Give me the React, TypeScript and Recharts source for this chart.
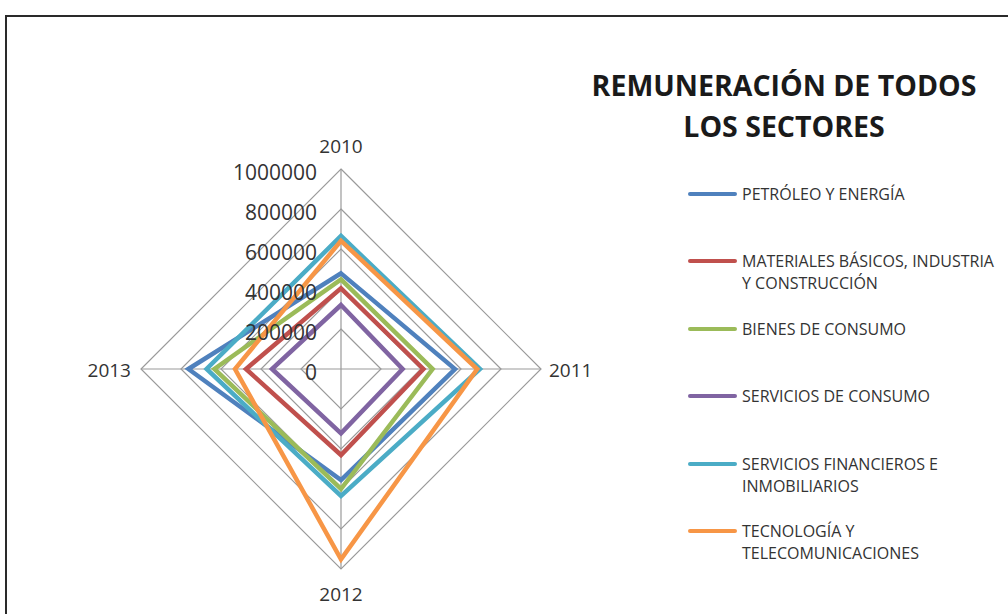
import React from 'react';
import { RadarChart, Radar, PolarGrid, PolarAngleAxis, PolarRadiusAxis, Legend } from 'recharts';

const categories = ['2010', '2011', '2012', '2013'];

const petroleo = [478000, 570000, 555000, 763000];
const materiales = [403000, 412000, 430000, 475000];
const bienes = [448000, 458000, 600000, 633000];
const serviciosConsumo = [320000, 308000, 322000, 345000];
const financieros = [665000, 695000, 635000, 672000];
const tecnologia = [641000, 681000, 952000, 530000];

const radiusTicks = [0, 200000, 400000, 600000, 800000, 1000000];

const seriesNames = [
  'PETRÓLEO Y ENERGÍA',
  'MATERIALES BÁSICOS, INDUSTRIA\nY CONSTRUCCIÓN',
  'BIENES DE CONSUMO',
  'SERVICIOS DE CONSUMO',
  'SERVICIOS FINANCIEROS E\nINMOBILIARIOS',
  'TECNOLOGÍA Y\nTELECOMUNICACIONES',
];

const seriesValues = [petroleo, materiales, bienes, serviciosConsumo, financieros, tecnologia];
const seriesColors = ['#4F81BD', '#C0504D', '#9BBB59', '#8064A2', '#4BACC6', '#F79646'];

const data = categories.map((year, i) => {
  const row: Record<string, string | number> = { year };
  seriesValues.forEach((vals, s) => {
    row['s' + s] = vals[i];
  });
  return row;
});

const CX = 341;
const CY = 369;
const R = 200;
const FONT = '"Open Sans", "Noto Sans", sans-serif';

function RadiusTick(props: any) {
  const { x, y, payload } = props;
  return (
    <text x={x - 24} y={y + 3} textAnchor="end" dominantBaseline="central" fontSize={21} fontFamily={FONT} fill="#333">
      {payload.value}
    </text>
  );
}

function AngleTick(props: any) {
  const { x, y, payload } = props;
  const dx = x - CX;
  const dy = y - CY;
  const len = Math.sqrt(dx * dx + dy * dy) || 1;
  const ux = dx / len;
  const uy = dy / len;
  let anchor: 'start' | 'middle' | 'end' = 'middle';
  let off = 24;
  if (ux > 0.5) {
    anchor = 'start';
    off = 8;
  } else if (ux < -0.5) {
    anchor = 'end';
    off = 10;
  }
  return (
    <text
      x={CX + ux * (R + off)}
      y={CY + uy * (R + off) + 1}
      textAnchor={anchor}
      dominantBaseline="central"
      fontSize={19}
      fontFamily={FONT}
      fill="#333"
    >
      {payload.value}
    </text>
  );
}

function LegendBox(props: any) {
  const { payload } = props;
  const items = [...(payload || [])].sort(
    (a: any, b: any) => seriesNames.indexOf(a.value) - seriesNames.indexOf(b.value)
  );
  return (
    <div style={{ position: 'relative', width: 320, height: 420 }}>
      {items.map((entry: any, i: number) => (
        <div key={i} style={{ position: 'absolute', left: 0, top: i * 67.4, display: 'flex', alignItems: 'flex-start' }}>
          <div style={{ width: 49, height: 4, background: entry.color, marginTop: 9, borderRadius: 2 }} />
          <div
            style={{
              marginLeft: 5,
              whiteSpace: 'pre',
              fontFamily: FONT,
              fontSize: 16,
              lineHeight: '22px',
              color: '#333',
            }}
          >
            {entry.value}
          </div>
        </div>
      ))}
    </div>
  );
}

export default function App() {
  return (
    <div style={{ position: 'absolute', left: 0, top: 0, width: 1008, height: 614, overflow: 'hidden', background: '#fff' }}>
      <div
        style={{
          position: 'absolute',
          left: 5,
          top: 15,
          width: 1020,
          height: 620,
          border: '2px solid #2a2a2a',
          boxSizing: 'border-box',
        }}
      />
      <div
        style={{
          position: 'absolute',
          left: 564,
          top: 65,
          width: 440,
          textAlign: 'center',
          fontFamily: FONT,
          fontWeight: 700,
          fontSize: 28.5,
          lineHeight: '41px',
          color: '#1a1a1a',
        }}
      >
        REMUNERACIÓN DE TODOS
        <br />
        LOS SECTORES
      </div>
      <div style={{ position: 'absolute', left: 0, top: 0 }}>
        <RadarChart width={1008} height={614} data={data} cx={CX} cy={CY} outerRadius={R} margin={{ top: 0, right: 0, bottom: 0, left: 0 }}>
          <PolarGrid gridType="polygon" stroke="#9a9a9a" strokeWidth={1.2} />
          <PolarAngleAxis dataKey="year" tick={<AngleTick />} tickLine={false} axisLine={false} />
          <PolarRadiusAxis
            angle={90}
            type="number"
            domain={[0, 1000000]}
            ticks={radiusTicks}
            tickCount={6}
            axisLine={false}
            tick={<RadiusTick />}
          />
          {seriesNames.map((name, s) => (
            <Radar
              key={s}
              name={name}
              dataKey={'s' + s}
              stroke={seriesColors[s]}
              strokeWidth={4.5}
              fill="none"
              fillOpacity={0}
              dot={false}
              isAnimationActive={false}
            />
          ))}
          <Legend
            layout="vertical"
            content={<LegendBox />}
            wrapperStyle={{ position: 'absolute', left: 688, top: 183, width: 320, height: 420 }}
          />
        </RadarChart>
      </div>
    </div>
  );
}
